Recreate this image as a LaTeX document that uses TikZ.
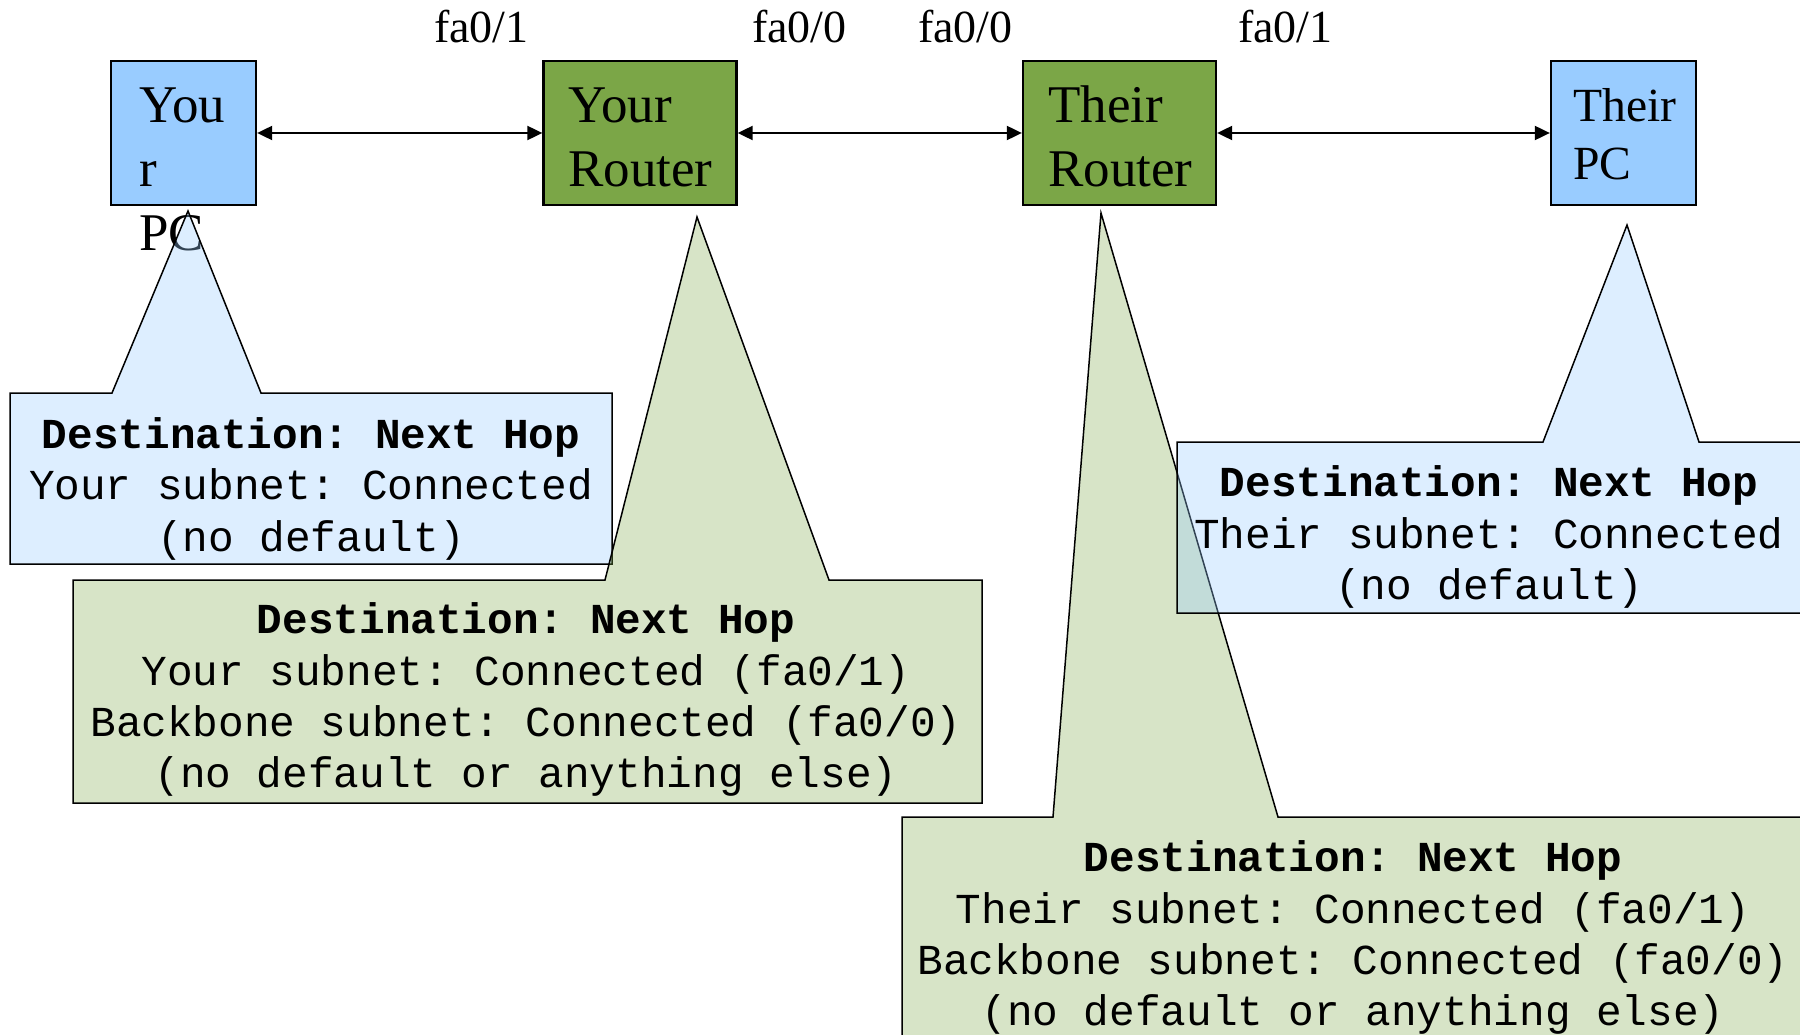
\documentclass[tikz,border=0pt]{standalone}
\usepackage{fontspec}
\setmainfont{Liberation Serif}
\setmonofont{Liberation Mono}
\usetikzlibrary{arrows.meta}
\definecolor{pcblue}{RGB}{153,204,255}
\definecolor{rtgreen}{RGB}{123,166,71}
\begin{document}
\begin{tikzpicture}[x=1pt,y=-1pt,
  devbox/.style={draw=black, line width=2.3pt, inner sep=0, minimum height=144pt},
  pcbox/.style={devbox, fill=pcblue, minimum width=145pt},
  rtbox/.style={devbox, fill=rtgreen, minimum width=193pt},
  lbl/.style={inner sep=0, anchor=base west, font=\fontsize{53}{64}\selectfont},
  lblsmall/.style={inner sep=0, anchor=base west, font=\fontsize{47.6}{58}\selectfont},
  portlbl/.style={inner sep=0, anchor=base west, font=\fontsize{46}{55}\selectfont},
  link/.style={line width=2pt, {Triangle[length=15pt,width=14pt]}-{Triangle[length=15pt,width=14pt]}},
  bluecall/.style={draw=black, line width=1.5pt, fill=pcblue, fill opacity=0.33},
  greencall/.style={draw=black, line width=1.5pt, fill=rtgreen, fill opacity=0.3},
  tablehead/.style={inner sep=0, anchor=base, font=\fontsize{42.7}{51}\selectfont\ttfamily\bfseries},
  tableline/.style={inner sep=0, anchor=base, font=\fontsize{42.7}{51}\selectfont\ttfamily},
]
\useasboundingbox (0,0) rectangle (1800,1035);
\clip (0,0) rectangle (1800,1035);

% device boxes
\node[pcbox] (pc1) at (183.5,133) {};
\node[rtbox] (r1) at (640,133) {};
\node[rtbox] (r2) at (1119.5,133) {};
\node[pcbox] (pc2) at (1623.5,133) {};

% box labels
\node[lbl] (pc1a) at (139,123) {You};
\node[lbl] (pc1b) at (139,187) {r};
\node[lbl] (pc1c) at (139,251) {PC};
\node[lbl] (r1a) at (568,123) {Your};
\node[lbl] (r1b) at (568,187) {Router};
\node[lbl] (r2a) at (1048,123) {Their};
\node[lbl] (r2b) at (1048,187) {Router};
\node[lblsmall] (pc2a) at (1573,122) {Their};
\node[lblsmall] (pc2b) at (1573,180) {PC};

% port labels
\node[portlbl] (p1) at (434,43) {fa0/1};
\node[portlbl] (p2) at (752,43) {fa0/0};
\node[portlbl] (p3) at (918,43) {fa0/0};
\node[portlbl] (p4) at (1238,43) {fa0/1};

% links
\draw[link] (pc1.east) -- (r1.west);
\draw[link] (r1.east) -- (r2.west);
\draw[link] (r2.east) -- (pc2.west);

% callout: your PC
\path[bluecall] (10,393) -- (112,393) -- (188,211) -- (261,393) -- (612,393)
  -- (612,564) -- (10,564) -- cycle;
\node[tablehead] (t1a) at (311,448) {Destination: Next Hop};
\node[tableline] (t1b) at (311,499.5) {Your subnet: Connected};
\node[tableline] (t1c) at (311,551) {(no default)};

% callout: your router
\path[greencall] (73,580) -- (605,580) -- (697,217) -- (829,580) -- (982,580)
  -- (982,803) -- (73,803) -- cycle;
\node[tablehead] (t2a) at (526,633.5) {Destination: Next Hop};
\node[tableline] (t2b) at (526,685) {Your subnet: Connected (fa0/1)};
\node[tableline] (t2c) at (526,736) {Backbone subnet: Connected (fa0/0)};
\node[tableline] (t2d) at (526,787.5) {(no default or anything else)};

% callout: their router
\path[greencall] (902,817) -- (1053,817) -- (1101,213) -- (1278,817) -- (1806,817)
  -- (1806,1040) -- (902,1040) -- cycle;
\node[tablehead] (t3a) at (1353,871.5) {Destination: Next Hop};
\node[tableline] (t3b) at (1353,923) {Their subnet: Connected (fa0/1)};
\node[tableline] (t3c) at (1353,974) {Backbone subnet: Connected (fa0/0)};
\node[tableline] (t3d) at (1353,1025.5) {(no default or anything else)};

% callout: their PC
\path[bluecall] (1177,442) -- (1543,442) -- (1627,225) -- (1699,442) -- (1806,442)
  -- (1806,613) -- (1177,613) -- cycle;
\node[tablehead] (t4a) at (1489,496.5) {Destination: Next Hop};
\node[tableline] (t4b) at (1489,548) {Their subnet: Connected};
\node[tableline] (t4c) at (1489,599) {(no default)};
\end{tikzpicture}
\end{document}
